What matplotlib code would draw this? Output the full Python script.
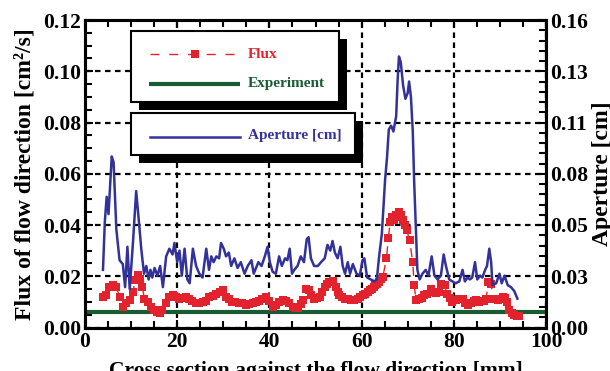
import numpy as np
import matplotlib.pyplot as plt
from matplotlib.patches import Rectangle
from matplotlib.lines import Line2D
from matplotlib.ticker import MultipleLocator, FixedLocator, FormatStrFormatter

plt.rcParams['font.family'] = ['Liberation Serif', 'DejaVu Serif']
plt.rcParams['font.weight'] = 'bold'
plt.rcParams['axes.labelweight'] = 'bold'

# aperture profile [cm] along the cross section [mm]
aperture_x = [3.9, 4.3, 4.7, 5.1, 5.8, 6.2, 6.8, 7.5, 8.2, 8.7, 9.2, 9.7, 10.4, 11.1, 11.7,
              12.2, 12.8, 13.3, 13.8, 14.2, 14.6, 15.1, 15.7, 16.3, 16.9, 17.6, 18.3, 19.0,
              19.4, 20.0, 20.5, 21.0, 21.6, 22.2, 22.7, 23.4, 24.1, 24.8, 25.5, 26.3, 26.9,
              27.4, 27.9, 28.5, 29.1, 29.5, 30.1, 30.6, 31.2, 31.7, 32.4, 33.1, 33.8, 34.6,
              35.3, 36.1, 36.6, 37.6, 38.3, 39.0, 39.6, 40.1, 40.7, 41.4, 42.1, 42.7, 43.4,
              43.9, 44.4, 44.9, 45.4, 46.1, 46.8, 47.5, 48.1, 48.5, 49.0, 49.7, 50.5, 51.2,
              52.0, 52.6, 53.2, 53.7, 54.2, 54.8, 55.4, 55.9, 56.4, 57.0, 57.5, 58.1, 58.9,
              59.6, 60.2, 60.6, 61.2, 62.0, 62.8, 63.3, 63.8, 64.4, 65.1, 65.5, 65.9, 66.4,
              66.9, 67.5, 67.8, 68.1, 68.5, 69.0, 69.5, 70.0, 70.3, 70.7, 71.1, 71.4, 71.8,
              72.1, 72.6, 73.2, 73.9, 74.5, 75.2, 75.8, 76.5, 77.2, 77.8, 78.3, 79.0, 79.7,
              80.4, 81.2, 81.9, 82.4, 83.0, 83.5, 84.0, 84.6, 85.1, 85.7, 86.2, 86.8, 87.2,
              87.7, 88.1, 88.4, 89.2, 89.9, 90.4, 91.0, 91.7, 92.4, 93.1, 93.8]
aperture_cm = [0.030, 0.055, 0.068, 0.059, 0.089, 0.086, 0.051, 0.035, 0.033, 0.021, 0.042,
               0.020, 0.044, 0.071, 0.055, 0.041, 0.028, 0.032, 0.025, 0.030, 0.026, 0.031,
               0.027, 0.032, 0.021, 0.037, 0.041, 0.038, 0.044, 0.034, 0.040, 0.027, 0.041,
               0.025, 0.023, 0.041, 0.032, 0.028, 0.026, 0.041, 0.030, 0.037, 0.034, 0.037,
               0.036, 0.044, 0.041, 0.037, 0.039, 0.032, 0.036, 0.031, 0.034, 0.028, 0.032,
               0.035, 0.028, 0.034, 0.032, 0.037, 0.042, 0.034, 0.029, 0.028, 0.037, 0.032,
               0.036, 0.035, 0.041, 0.028, 0.030, 0.032, 0.037, 0.034, 0.046, 0.047, 0.036,
               0.032, 0.032, 0.034, 0.036, 0.043, 0.040, 0.045, 0.039, 0.036, 0.042, 0.032,
               0.028, 0.034, 0.028, 0.033, 0.028, 0.027, 0.035, 0.036, 0.026, 0.025, 0.024,
               0.025, 0.037, 0.049, 0.077, 0.088, 0.103, 0.105, 0.102, 0.110, 0.128, 0.141,
               0.138, 0.126, 0.119, 0.122, 0.128, 0.120, 0.102, 0.076, 0.049, 0.030, 0.025,
               0.028, 0.030, 0.027, 0.037, 0.027, 0.025, 0.027, 0.038, 0.032, 0.025, 0.024,
               0.023, 0.024, 0.030, 0.024, 0.026, 0.025, 0.026, 0.034, 0.025, 0.027, 0.026,
               0.030, 0.032, 0.041, 0.034, 0.022, 0.023, 0.028, 0.023, 0.027, 0.022, 0.021,
               0.019, 0.015]

# computed flux of flow direction [cm2/s]
flux_x = [3.9, 4.6, 5.3, 6.1, 6.8, 7.5, 8.2, 8.9, 9.7, 10.4, 10.9, 11.5, 12.0, 12.4, 12.9,
          13.6, 14.3, 15.0, 15.6, 16.2, 16.8, 17.6, 18.3, 19.0, 19.7, 20.4, 21.1, 21.9, 22.6,
          23.3, 24.1, 24.8, 25.5, 26.2, 27.0, 27.7, 28.4, 29.2, 29.9, 30.6, 31.2, 31.9, 32.6,
          33.3, 34.1, 34.9, 35.6, 36.4, 37.1, 37.8, 38.5, 39.3, 40.0, 40.7, 41.4, 42.1, 42.9,
          43.6, 44.3, 45.1, 45.7, 46.2, 46.8, 47.3, 47.9, 48.6, 49.1, 49.7, 50.4, 50.9, 51.5,
          52.0, 52.5, 53.0, 53.7, 54.4, 54.8, 55.2, 55.8, 56.3, 57.0, 57.7, 58.4, 59.2, 59.7,
          60.2, 60.8, 61.3, 61.8, 62.3, 62.7, 63.0, 63.4, 63.8, 64.2, 64.6, 65.4, 65.8, 66.2,
          66.6, 67.0, 67.4, 67.8, 68.2, 68.6, 69.0, 69.4, 69.8, 70.4, 71.1, 71.4, 71.8, 72.4,
          73.0, 73.6, 74.2, 75.0, 75.6, 76.2, 76.8, 77.3, 78.0, 78.6, 79.2, 79.7, 80.4, 81.1,
          81.9, 82.5, 83.0, 83.7, 84.3, 84.8, 85.5, 85.9, 86.5, 87.0, 87.5, 88.1, 88.6, 89.5,
          90.1, 90.6, 91.2, 91.5, 92.0, 92.6, 93.1, 93.7, 94.2]
flux_val = [0.0120, 0.0126, 0.0158, 0.0165, 0.0158, 0.0120, 0.0081, 0.0094, 0.0107, 0.0140,
            0.0184, 0.0204, 0.0190, 0.0160, 0.0113, 0.0100, 0.0080, 0.0068, 0.0060, 0.0058,
            0.0068, 0.0094, 0.0120, 0.0126, 0.0120, 0.0113, 0.0115, 0.0120, 0.0110, 0.0105,
            0.0094, 0.0094, 0.0098, 0.0105, 0.0120, 0.0123, 0.0130, 0.0139, 0.0146, 0.0120,
            0.0110, 0.0100, 0.0098, 0.0096, 0.0094, 0.0089, 0.0092, 0.0096, 0.0100, 0.0104,
            0.0110, 0.0120, 0.0105, 0.0081, 0.0088, 0.0098, 0.0107, 0.0104, 0.0095, 0.0081,
            0.0077, 0.0075, 0.0090, 0.0107, 0.0152, 0.0146, 0.0125, 0.0110, 0.0115, 0.0120,
            0.0140, 0.0158, 0.0170, 0.0178, 0.0180, 0.0160, 0.0140, 0.0126, 0.0120, 0.0113,
            0.0110, 0.0107, 0.0108, 0.0110, 0.0120, 0.0126, 0.0130, 0.0139, 0.0145, 0.0152,
            0.0160, 0.0165, 0.0170, 0.0178, 0.0190, 0.0197, 0.0270, 0.0350, 0.0410, 0.0430,
            0.0420, 0.0440, 0.0430, 0.0450, 0.0440, 0.0420, 0.0400, 0.0380, 0.0340, 0.0255,
            0.0165, 0.0107, 0.0110, 0.0115, 0.0125, 0.0130, 0.0150, 0.0140, 0.0135, 0.0138,
            0.0170, 0.0165, 0.0130, 0.0115, 0.0100, 0.0108, 0.0110, 0.0110, 0.0095, 0.0087,
            0.0095, 0.0105, 0.0108, 0.0100, 0.0102, 0.0105, 0.0110, 0.0178, 0.0170, 0.0110,
            0.0108, 0.0112, 0.0120, 0.0115, 0.0100, 0.0068, 0.0058, 0.0049, 0.0046, 0.0045]

# measured flux
experiment_x = [0, 100]
experiment_flux = [0.0062, 0.0062]

RED = '#e2222c'
GREEN = '#175c32'
BLUE = '#32329a'

W, H = 610, 371


def fx(x):
    return x / W


def fy(y):
    return 1 - y / H


fig = plt.figure(figsize=(W / 100, H / 100), dpi=100)
ax = fig.add_axes([fx(85), fy(327.5), (546 - 85) / W, (327.5 - 20) / H])
ax2 = ax.twinx()

ax.plot(experiment_x, experiment_flux, color=GREEN, lw=3, solid_capstyle='butt', zorder=3)
ax.plot(flux_x, flux_val, color=RED, lw=1, ls='--', dashes=(6.5, 7),
        marker='s', ms=5.6, mew=0, zorder=4)
ax2.plot(aperture_x, aperture_cm, color=BLUE, lw=1.8, zorder=3)

ax.set_xlim(0, 100)
ax.set_ylim(0, 0.12)
ax2.set_ylim(0, 0.16)

ax.xaxis.set_major_locator(MultipleLocator(20))
ax.xaxis.set_minor_locator(MultipleLocator(5))
ax.yaxis.set_major_locator(MultipleLocator(0.02))
ax.yaxis.set_minor_locator(MultipleLocator(0.005))
ax.yaxis.set_major_formatter(FormatStrFormatter('%.2f'))
ax2.yaxis.set_major_locator(FixedLocator(np.linspace(0, 0.16, 7)))
ax2.yaxis.set_minor_locator(FixedLocator(np.linspace(0, 0.16, 31)))
ax2.yaxis.set_major_formatter(FormatStrFormatter('%.2f'))

for a in (ax, ax2):
    a.tick_params(which='both', direction='in', width=1.5, labelsize=15.5, pad=3)
    a.tick_params(which='major', length=6)
    a.tick_params(which='minor', length=5)
    for s in a.spines.values():
        s.set_linewidth(2.2)
    for lbl in a.get_xticklabels() + a.get_yticklabels():
        lbl.set_fontweight('bold')
ax.tick_params(which='both', top=True, right=False)

ax.grid(True, which='major', color='black', ls=(0, (2.5, 2)), lw=1.6)

ax.set_xlabel('Cross section against the flow direction [mm]', fontsize=15.5,
              fontweight='bold', labelpad=7)
ax.set_ylabel('Flux of flow direction [cm²/s]', fontsize=17, fontweight='bold',
              labelpad=5)
ax2.set_ylabel('Aperture [cm]', fontsize=17, fontweight='bold', labelpad=3)


def legend_box(left, top, right, bottom, shadow=8):
    fig.add_artist(Rectangle((fx(left + shadow), fy(bottom + shadow)), (right - left) / W,
                             (bottom - top) / H, transform=fig.transFigure,
                             facecolor='black', edgecolor='none'))
    fig.add_artist(Rectangle((fx(left), fy(bottom)), (right - left) / W, (bottom - top) / H,
                             transform=fig.transFigure, facecolor='white',
                             edgecolor='black', lw=1.5))


legend_box(131, 31, 339, 102)
legend_box(131, 113, 355, 155)

fig.add_artist(Line2D([fx(150), fx(238)], [fy(54)] * 2, transform=fig.transFigure,
                      color=RED, lw=1, ls='--', dashes=(6.5, 7)))
fig.add_artist(Line2D([fx(195)], [fy(54)], transform=fig.transFigure,
                      color=RED, marker='s', ms=5.6, mew=0))
fig.add_artist(Line2D([fx(149), fx(240)], [fy(84)] * 2, transform=fig.transFigure,
                      color=GREEN, lw=3, solid_capstyle='butt'))
fig.add_artist(Line2D([fx(150), fx(240)], [fy(137)] * 2, transform=fig.transFigure,
                      color=BLUE, lw=1.8))

fig.text(fx(248), fy(54), 'Flux', color=RED, fontsize=11, va='center', weight='bold')
fig.text(fx(248), fy(84), 'Experiment', color=GREEN, fontsize=11, va='center', weight='bold')
fig.text(fx(248), fy(136), 'Aperture [cm]', color=BLUE, fontsize=11, va='center',
         weight='bold')

fig.savefig('out.png', dpi=100)
